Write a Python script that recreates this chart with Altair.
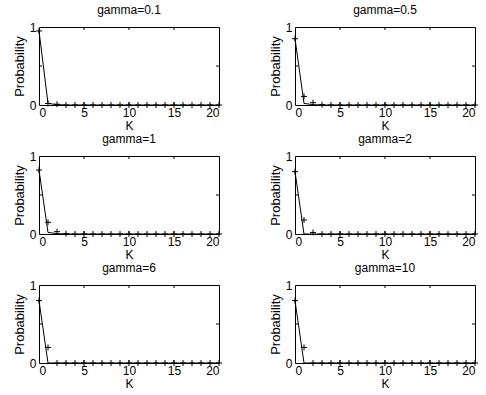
import altair as alt
import pandas as pd

K = list(range(21))
gammas = ["0.1", "0.5", "1", "2", "6", "10"]

# "+" markers (observed probabilities)
marker_vals = {
    "0.1": [0.95, 0.02, 0.01] + [0.0] * 18,
    "0.5": [0.85, 0.11, 0.03, 0.005] + [0.0] * 17,
    "1":   [0.82, 0.15, 0.03, 0.005] + [0.0] * 17,
    "2":   [0.80, 0.18, 0.02] + [0.0] * 18,
    "6":   [0.80, 0.20] + [0.0] * 19,
    "10":  [0.80, 0.20] + [0.0] * 19,
}
# solid line (model probabilities)
line_vals = {
    "0.1": [0.95, 0.02, 0.005] + [0.0] * 18,
    "0.5": [0.85, 0.02, 0.005] + [0.0] * 18,
    "1":   [0.82, 0.02, 0.005] + [0.0] * 18,
    "2":   [0.80, 0.0] + [0.0] * 19,
    "6":   [0.80, 0.0] + [0.0] * 19,
    "10":  [0.80, 0.0] + [0.0] * 19,
}
x_ticks = [0, 5, 10, 15, 20]
y_ticks = [0, 0.5, 1]
inner_x = [5, 10, 15]
inner_y = [0.5]

W, H = 180, 78
FONT = "Liberation Sans"
PLUS = "M-1,0H1M0,-1V1"


def panel(g):
    df = pd.DataFrame({"K": K, "P": marker_vals[g], "L": line_vals[g]})
    xs = alt.Scale(domain=[0, 20], nice=False)
    ys = alt.Scale(domain=[0, 1], nice=False)
    xax = alt.Axis(values=x_ticks, title="K", grid=False, tickSize=0, labelPadding=2,
                   titlePadding=2, domain=False, titleFontSize=12)
    yax = alt.Axis(values=y_ticks, title="Probability", grid=False, tickSize=0,
                   labelPadding=3, titlePadding=3, domain=False, titleFontSize=13,
                   labelExpr="datum.value == 0 ? '0' : datum.value == 1 ? '1' : '0.5'")
    base = alt.Chart(df)
    line = base.mark_line(color="black", strokeWidth=1).encode(
        x=alt.X("K:Q", scale=xs, axis=xax),
        y=alt.Y("L:Q", scale=ys, axis=yax),
    )
    pts = base.mark_point(shape=PLUS, size=36, filled=False, color="black",
                          strokeWidth=1, opacity=1).encode(
        x=alt.X("K:Q", scale=xs), y=alt.Y("P:Q", scale=ys)
    )
    tx = pd.DataFrame({"t": inner_x})
    top_ticks = alt.Chart(tx).mark_rule(color="black", strokeWidth=1).encode(
        x=alt.X("t:Q", scale=xs), y=alt.value(0), y2=alt.value(3))
    bot_ticks = alt.Chart(tx).mark_rule(color="black", strokeWidth=1).encode(
        x=alt.X("t:Q", scale=xs), y=alt.value(H), y2=alt.value(H - 3))
    ty = pd.DataFrame({"t": inner_y})
    left_ticks = alt.Chart(ty).mark_rule(color="black", strokeWidth=1).encode(
        y=alt.Y("t:Q", scale=ys), x=alt.value(0), x2=alt.value(3))
    right_ticks = alt.Chart(ty).mark_rule(color="black", strokeWidth=1).encode(
        y=alt.Y("t:Q", scale=ys), x=alt.value(W), x2=alt.value(W - 3))
    return alt.layer(line, pts, top_ticks, bot_ticks, left_ticks, right_ticks).properties(
        width=W, height=H,
        title=alt.TitleParams(f"gamma={g}", fontSize=12, fontWeight="normal",
                              font=FONT, offset=4, color="black"),
    )


chart = alt.concat(*[panel(g) for g in gammas], columns=2,
                   spacing={"row": 0, "column": 43}).properties(
    padding={"left": 12, "top": 3, "right": 5, "bottom": 0},
    background="white",
).configure_view(
    stroke="black", strokeWidth=1
).configure_axis(
    labelFont=FONT, titleFont=FONT, labelFontSize=12, titleFontSize=12,
    titleFontWeight="normal", labelColor="black", titleColor="black"
)

chart.save("out.html", embed_options={"renderer": "svg", "actions": False})
